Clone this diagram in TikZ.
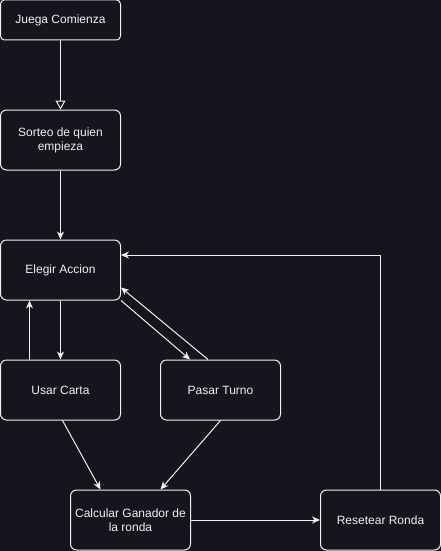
\documentclass[tikz,border=0pt]{standalone}
\usepackage{fontspec}
\setmainfont{Liberation Sans}
\usepackage{tikz}
\usetikzlibrary{shapes,arrows.meta,positioning}
\definecolor{fondo}{RGB}{24,20,29}
\definecolor{linea}{RGB}{240,240,240}
\tikzset{
  paso/.style={draw=linea, fill=fondo, text=linea, line width=1pt,
    rounded corners=6pt, minimum width=120pt, minimum height=60pt,
    inner sep=0pt, align=center, font=\fontsize{12pt}{14pt}\selectfont},
  flecha/.style={draw=linea, line width=1pt,
    -{Stealth[length=8pt,width=7pt,inset=2.5pt]}},
}

\begin{document}
\begin{tikzpicture}[x=1pt,y=-1pt]
\fill[fondo] (0,0) rectangle (441,551);
\useasboundingbox (0,0) rectangle (441,551);

\node[paso, minimum height=40pt, rounded corners=4pt] (juega) at (60.5,20) {Juega Comienza};
\node[paso] (sorteo) at (60.5,140) {Sorteo de quien\\empieza};
\node[paso] (elegir) at (60.5,270) {Elegir Accion};
\node[paso] (usar) at (60.5,390) {Usar Carta};
\node[paso] (pasar) at (220.5,390) {Pasar Turno};
\node[paso] (calcular) at (130.5,520) {Calcular Ganador de\\la ronda};
\node[paso] (resetear) at (380.5,520) {Resetear Ronda};

\draw[flecha, -{Triangle[open,length=9pt,width=10pt]}] (juega) -- (sorteo);
\draw[flecha] (sorteo) -- (elegir);
\draw[flecha] (elegir) -- (usar);
\draw[flecha] ([xshift=29.5pt]usar.north west) -- ([xshift=29.5pt]elegir.south west);
\draw[flecha] (elegir.south east) -- ([xshift=30pt]pasar.north west);
\draw[flecha] ([xshift=48pt]pasar.north west) -- ([yshift=13pt]elegir.south east);
\draw[flecha] ([xshift=2pt]usar.south) -- ([xshift=-30pt]calcular.north);
\draw[flecha] (pasar.south) -- ([xshift=30pt]calcular.north);
\draw[flecha] (calcular) -- (resetear);
\draw[flecha] (resetear.north) |- ([yshift=15pt]elegir.east);
\end{tikzpicture}
\end{document}
